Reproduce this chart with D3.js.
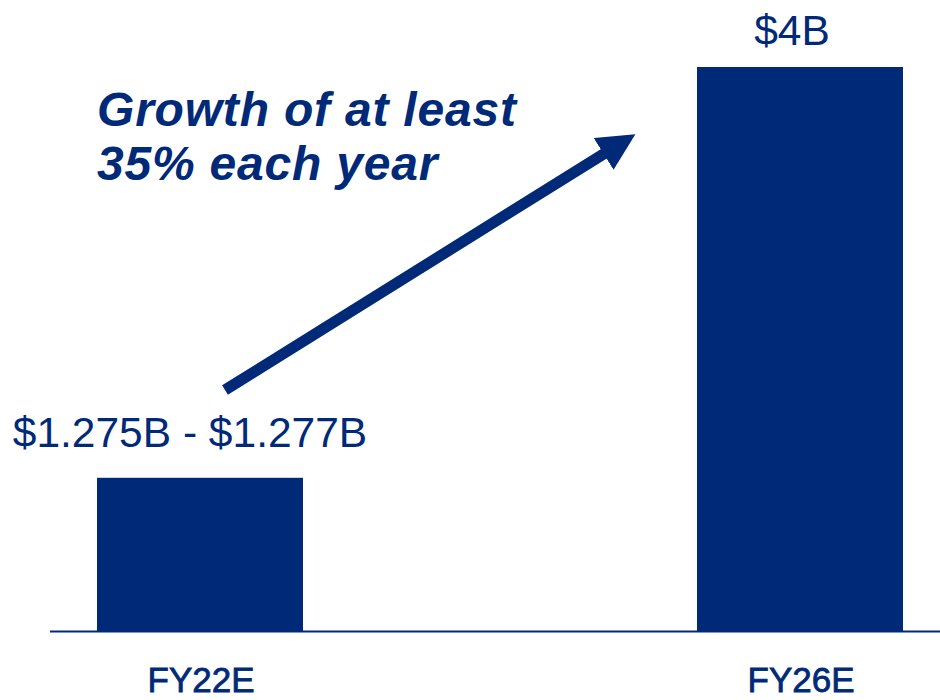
<!DOCTYPE html>
<html>
<head>
<meta charset="utf-8">
<script src="https://cdn.jsdelivr.net/npm/d3@7"></script>
<style>
  body { margin:0; background:#fff; }
  svg text { font-family: "Liberation Sans", Arial, sans-serif; }
</style>
</head>
<body>
<div id="chart"></div>
<script>
// chart data
var categories = ["FY22E", "FY26E"];
var revenue = [1.276, 4];               // $B, midpoint of the FY22E guidance range
var valueLabels = ["$1.275B - $1.277B", "$4B"];
var titleLines = ["Growth of at least", "35% each year"];

var navy = "#002a78";
var W = 940, H = 700;
var baseY = 631;

var svg = d3.select("#chart").append("svg")
    .attr("width", W)
    .attr("height", H);

var x = d3.scalePoint()
    .domain(categories)
    .range([200, 800]);
var barW = 206;

// bars in the original don't start from zero
var y = d3.scaleLinear()
    .domain([0.26, 4])
    .range([baseY, 67]);

// bars
svg.append("g").selectAll("rect")
    .data(revenue)
    .enter()
    .append("rect")
    .attr("x", function (d, i) { return x(categories[i]) - barW / 2; })
    .attr("y", function (d) { return y(d); })
    .attr("width", barW)
    .attr("height", function (d) { return baseY - y(d); })
    .attr("fill", navy);

// baseline
svg.append("line")
    .attr("x1", 50).attr("x2", W)
    .attr("y1", baseY + 0.5).attr("y2", baseY + 0.5)
    .attr("stroke", navy)
    .attr("stroke-width", 2);

// value labels
svg.append("g").selectAll("text")
    .data(revenue)
    .enter()
    .append("text")
    .attr("x", function (d, i) { return x(categories[i]) - 10 + i * 2; })
    .attr("y", function (d, i) { return y(d) - (i === 0 ? 31 : 22); })
    .attr("text-anchor", "middle")
    .attr("font-size", 42.5)
    .attr("fill", navy)
    .text(function (d, i) { return valueLabels[i]; });

// category labels
svg.append("g").selectAll("text")
    .data(categories)
    .enter()
    .append("text")
    .attr("x", function (d) { return x(d) + 1; })
    .attr("y", 692)
    .attr("text-anchor", "middle")
    .attr("font-size", 35)
    .attr("fill", navy)
    .attr("stroke", navy)
    .attr("stroke-width", 0.8)
    .text(function (d) { return d; });

// growth arrow
var defs = svg.append("defs");
defs.append("marker")
    .attr("id", "head")
    .attr("viewBox", "0 0 10 10")
    .attr("refX", 2).attr("refY", 5)
    .attr("markerWidth", 3.4).attr("markerHeight", 3.4)
    .attr("markerUnits", "strokeWidth")
    .attr("orient", "auto")
    .append("path")
    .attr("d", "M0,0 L10,5 L0,10 Z")
    .attr("fill", navy);

svg.append("line")
    .attr("x1", 225).attr("y1", 390)
    .attr("x2", 610).attr("y2", 150)
    .attr("stroke", navy)
    .attr("stroke-width", 11)
    .attr("marker-end", "url(#head)");

// annotation text
svg.append("g").selectAll("text")
    .data(titleLines)
    .enter()
    .append("text")
    .attr("x", 97)
    .attr("y", function (d, i) { return 126 + i * 54; })
    .attr("font-size", 48)
    .attr("letter-spacing", 0.8)
    .attr("font-weight", "bold")
    .attr("font-style", "italic")
    .attr("fill", navy)
    .text(function (d) { return d; });
</script>
</body>
</html>
